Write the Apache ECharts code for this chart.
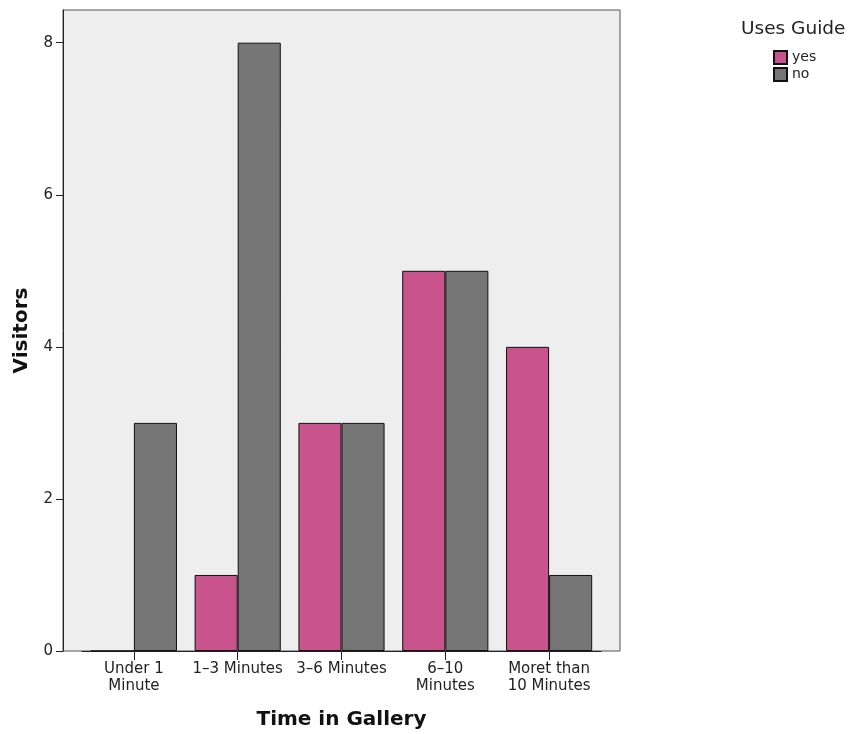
<!DOCTYPE html>
<html>
<head>
<meta charset="utf-8">
<script src="https://cdn.jsdelivr.net/npm/echarts@6/dist/echarts.min.js"></script>
<style>html,body{margin:0;padding:0;background:#fff;}#c{width:851px;height:734px;}</style>
</head>
<body>
<div id="c"></div>
<script>
const categories = ['Under 1\nMinute', '1–3 Minutes', '3–6 Minutes', '6–10\nMinutes', 'Moret than\n10 Minutes'];
const seriesNames = ['yes', 'no'];
const yesValues = [0, 1, 3, 5, 4];
const noValues = [3, 8, 3, 5, 1];
const yTicks = [0, 2, 4, 6, 8];

const FONT = 'DejaVu Sans';
const chart = echarts.init(document.getElementById('c'), null, {renderer: 'canvas'});
chart.setOption({
  animation: false,
  backgroundColor: '#ffffff',
  textStyle: {fontFamily: FONT},
  graphic: [
    {type: 'rect', z: 0, silent: true, shape: {x: 63, y: 10, width: 557, height: 641},
     style: {fill: '#eeeeee', stroke: '#555555', lineWidth: 1}},
    {type: 'text', left: 741, top: 20, style: {text: 'Uses Guide', font: '18.5px "DejaVu Sans"', fill: '#222'}}
  ],
  grid: {left: 82, right: 250, top: 10, bottom: 83, containLabel: false, outerBoundsMode: 'none'},
  legend: {
    orient: 'vertical', left: 773, top: 50, padding: 0, itemWidth: 13, itemHeight: 13, itemGap: 2,
    icon: 'rect', data: seriesNames,
    textStyle: {fontFamily: FONT, fontSize: 14, color: '#222'}
  },
  xAxis: {
    type: 'category', data: categories,
    axisLine: {show: true, lineStyle: {color: '#222', width: 1}},
    axisTick: {show: true, alignWithLabel: true, length: 9, lineStyle: {color: '#222'}},
    axisLabel: {fontFamily: FONT, fontSize: 15, color: '#222', lineHeight: 17, interval: 0, margin: 10},
    name: 'Time in Gallery', nameLocation: 'middle', nameGap: 59,
    nameTextStyle: {fontFamily: FONT, fontSize: 20, fontWeight: 'bold', color: '#111'}
  },
  yAxis: {
    type: 'value', min: 0, max: 8.43, interval: 2, offset: 19,
    axisLine: {show: true, lineStyle: {color: '#222', width: 1}},
    axisTick: {show: true, length: 7, lineStyle: {color: '#222'}, customValues: yTicks},
    splitLine: {show: false},
    axisLabel: {fontFamily: FONT, fontSize: 15, color: '#222', margin: 10, customValues: yTicks},
    name: 'Visitors', nameLocation: 'middle', nameGap: 31,
    nameTextStyle: {fontFamily: FONT, fontSize: 20, fontWeight: 'bold', color: '#111'}
  },
  series: [
    {name: seriesNames[0], type: 'bar', data: yesValues, barGap: '0%', barCategoryGap: '17%',
     itemStyle: {color: '#c9538c', borderColor: '#111', borderWidth: 1}},
    {name: seriesNames[1], type: 'bar', data: noValues, barGap: '0%', barCategoryGap: '17%',
     itemStyle: {color: '#767676', borderColor: '#111', borderWidth: 1}}
  ]
});
</script>
</body>
</html>
